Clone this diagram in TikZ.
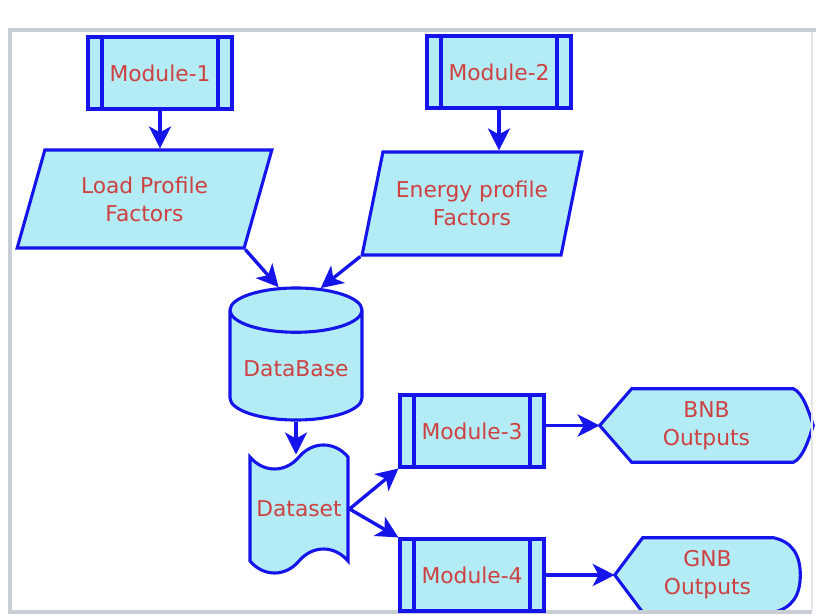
\documentclass[tikz,border=0pt]{standalone}
\usepackage{fontspec}
\setmainfont{DejaVu Sans}
\usetikzlibrary{shapes.geometric,shapes.symbols,arrows.meta,calc,backgrounds}
\definecolor{boxfill}{RGB}{180,236,246}
\definecolor{boxline}{RGB}{20,20,235}
\definecolor{boxtext}{RGB}{205,65,65}
\definecolor{framegray}{RGB}{200,206,212}
\tikzset{
  base/.style={draw=boxline, fill=boxfill, line width=2.2pt, text=boxtext,
    font=\fontsize{15.5}{20}\selectfont, align=center, inner sep=2pt},
  module/.style={base, rectangle, minimum width=3.6cm, minimum height=1.8cm,
    path picture={\draw[boxline, line width=2.2pt]
      ([xshift=0.35cm]path picture bounding box.north west) -- ([xshift=0.35cm]path picture bounding box.south west)
      ([xshift=-0.35cm]path picture bounding box.north east) -- ([xshift=-0.35cm]path picture bounding box.south east);}},
  factor/.style={base, trapezium, trapezium left angle=70, trapezium right angle=110, trapezium stretches=true},
  outputs/.style={text=boxtext, font=\fontsize{15.5}{20}\selectfont, align=center, inner sep=0pt},
  display/.style={draw=boxline, fill=boxfill, line width=2.2pt},
  flow/.style={draw=boxline, line width=2.4pt, -{Stealth[length=0.55cm, width=0.55cm, inset=0.15cm]}}
}
\begin{document}
\begin{tikzpicture}[x=0.025cm, y=-0.025cm]
\useasboundingbox (0,0) rectangle (816,615);
% frame
\draw[framegray, line width=0.08cm] (812,30) -- (10,30) -- (10,612) -- (812,612);
\draw[framegray!50, line width=0.04cm] (812,30) -- (812,612);
\draw[framegray, line width=0.12cm] (8,30) -- (816,30);

\node[module] (m1) at (160,73) {Module-1};
\node[module] (m2) at (499,72) {Module-2};
\node[factor, minimum width=6.375cm, minimum height=2.45cm] (load) at (144.5,199) {Load Profile\\Factors};
\node[factor, minimum width=5.5cm, minimum height=2.575cm] (energy) at (472,203.5) {Energy profile\\Factors};
\node[base, cylinder, shape border rotate=90, aspect=0.4, minimum width=3.3cm, minimum height=3.3cm,
  anchor=shape center] (db) at (296,354) {DataBase};
\node[base, tape, tape bend top=in and out, tape bend bottom=in and out, tape bend height=0.6cm,
  minimum width=2.45cm, minimum height=3.2cm] (ds) at (299,509) {Dataset};
\node[module] (m3) at (472,431) {Module-3};
\node[module] (m4) at (472,575) {Module-4};
\node[outputs, minimum width=5.325cm, minimum height=1.825cm] (bnb) at (706.5,425.5) {BNB\\Outputs};
\node[outputs, minimum width=4.625cm, minimum height=1.85cm] (gnb) at (707.5,575) {GNB\\Outputs};

\begin{pgfonlayer}{background}
\draw[display] (bnb.west) -- ($(bnb.north west)+(32,0)$) -- ($(bnb.north east)+(-20,0)$)
  .. controls ($(bnb.north east)+(-10,4)$) and ($(bnb.east)+(-4,-12)$) .. (bnb.east)
  .. controls ($(bnb.east)+(-4,12)$) and ($(bnb.south east)+(-10,-4)$) .. ($(bnb.south east)+(-20,0)$)
  -- ($(bnb.south west)+(32,0)$) -- cycle;
\draw[display] (gnb.west) -- ($(gnb.north west)+(28,0)$) -- ($(gnb.north east)+(-27,0)$)
  .. controls ($(gnb.north east)+(-8,4)$) and ($(gnb.east)+(0,-20)$) .. (gnb.east)
  .. controls ($(gnb.east)+(0,20)$) and ($(gnb.south east)+(-8,-4)$) .. ($(gnb.south east)+(-27,0)$)
  -- ($(gnb.south west)+(28,0)$) -- cycle;
\end{pgfonlayer}

\draw[flow] (m1.south) -- (m1.south |- load.north);
\draw[flow] (m2.south) -- (m2.south |- energy.north);
\draw[flow] (load.bottom right corner) -- (db.102);
\draw[flow] (energy.bottom left corner) -- (db.73);
\draw[flow] (db.south) -- (db.south |- ds.north);
\draw[flow] (ds.east) -- (m3.south west);
\draw[flow] (ds.east) -- (m4.north west);
\draw[flow] (m3.east |- bnb.west) -- (bnb.west);
\draw[flow] (m4.east |- gnb.west) -- (gnb.west);
\end{tikzpicture}
\end{document}
